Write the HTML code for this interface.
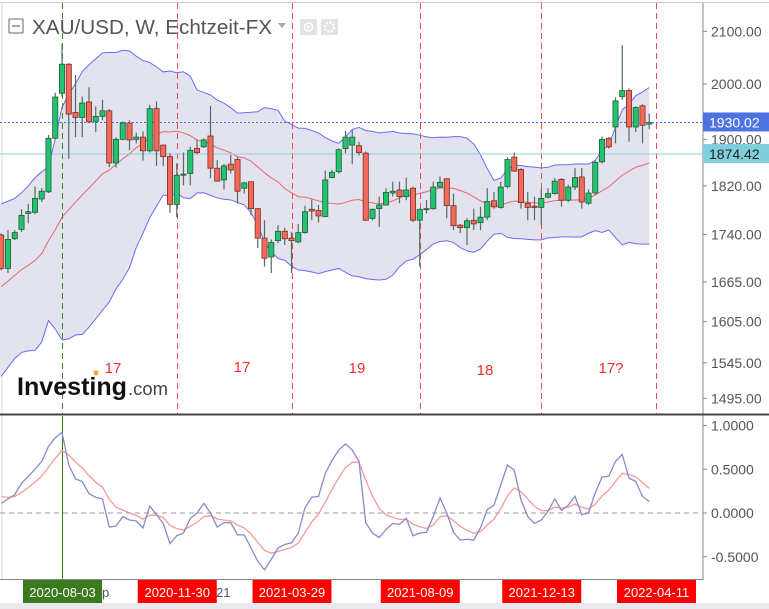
<!DOCTYPE html>
<html><head><meta charset="utf-8">
<style>
html,body{margin:0;padding:0;background:#fff;width:769px;height:609px;overflow:hidden}
svg{display:block;font-family:"Liberation Sans",sans-serif}
</style></head>
<body>
<svg id="chart" width="769" height="609" viewBox="0 0 769 609" xmlns="http://www.w3.org/2000/svg">
<defs><clipPath id="mainClip"><rect x="0" y="3" width="703" height="411"/></clipPath>
<clipPath id="oscClip"><rect x="0" y="416" width="703" height="163"/></clipPath></defs>
<rect x="0" y="0" width="769" height="609" fill="#fff"/>
<line x1="0" y1="2.5" x2="769" y2="2.5" stroke="#ccc"/>
<line x1="2" y1="3" x2="2" y2="580" stroke="#ddd"/>
<g id="bands" clip-path="url(#mainClip)"></g>
<g id="vlines"></g>
<g id="hlines"></g>
<g id="candles" clip-path="url(#mainClip)"></g>
<g font-size="15" fill="#f03030" text-anchor="middle">
<text x="113" y="373">17</text>
<text x="242" y="372">17</text>
<text x="357" y="373">19</text>
<text x="485" y="375">18</text>
<text x="611" y="373">17?</text>
</g>
<g>
<text x="17" y="395" font-size="25" font-weight="bold" fill="#111" textLength="110" lengthAdjust="spacingAndGlyphs">Investing</text>
<text x="128" y="395" font-size="18" fill="#444" textLength="40" lengthAdjust="spacingAndGlyphs">.com</text>
<circle cx="96" cy="373" r="2.5" fill="#f7a21b"/>
</g>
<g>
<rect x="9" y="19" width="14" height="14" fill="#fff" stroke="#666" rx="1"/>
<line x1="12" y1="26" x2="20" y2="26" stroke="#666" stroke-width="1.2"/>
<text x="32" y="34" font-size="20" fill="#555" textLength="240" lengthAdjust="spacingAndGlyphs">XAU/USD, W, Echtzeit-FX</text>
<path d="M278 23 l8 0 l-4 5z" fill="#aaa"/>
<rect x="300" y="19" width="17" height="16" fill="#e3e3e3"/>
<circle cx="308.5" cy="27" r="4" fill="none" stroke="#fff" stroke-width="1.6"/>
<circle cx="308.5" cy="27" r="1.5" fill="#fff"/>
<rect x="321" y="19" width="17" height="16" fill="#e3e3e3"/>
<circle cx="329.5" cy="27" r="4.5" fill="none" stroke="#fff" stroke-width="2.5" stroke-dasharray="2 1.5"/>
</g>
<line x1="703" y1="3" x2="703" y2="580" stroke="#888"/>
<g id="yaxis"></g>
<line x1="0" y1="414.5" x2="769" y2="414.5" stroke="#444" stroke-width="2"/>
<g id="osc"></g>
<line x1="0" y1="579.5" x2="703" y2="579.5" stroke="#888"/>
<g id="dates"></g>
<rect x="0" y="603" width="769" height="6" fill="#e9e9ee"/>
</svg>
<script>
const opens=[1739,1686,1733,1748,1774,1776,1798,1810,1902,1983,2037,1948,1939,1967,1932,1941,1951,1859,1900,1929,1900,1904,1880,1955,1890,1870,1789,1838,1841,1884,1887,1906,1850,1830,1857,1865,1816,1827,1782,1734,1704,1730,1745,1734,1728,1743,1781,1779,1769,1834,1844,1884,1890,1889,1876,1766,1782,1788,1808,1813,1802,1816,1763,1781,1782,1818,1832,1787,1755,1751,1763,1759,1768,1795,1784,1819,1869,1848,1791,1786,1784,1801,1807,1831,1796,1818,1835,1791,1808,1861,1902,1922,1977,1988,1922,1960,1927];
const highs=[1742,1747,1747,1781,1790,1819,1816,1908,1984,2075,2039,2017,1977,1994,1959,1971,1954,1904,1932,1934,1912,1914,1962,1968,1891,1876,1858,1877,1887,1900,1902,1960,1864,1857,1873,1869,1827,1827,1782,1763,1732,1755,1751,1744,1757,1787,1797,1788,1846,1847,1884,1915,1917,1896,1879,1782,1802,1816,1827,1827,1834,1819,1781,1796,1827,1836,1833,1807,1757,1766,1782,1785,1816,1810,1827,1869,1877,1850,1810,1802,1815,1816,1833,1833,1822,1850,1850,1814,1864,1905,1904,1975,2073,1992,1959,1963,1946];
const lows=[1683,1679,1731,1744,1758,1773,1793,1808,1900,1977,1866,1904,1904,1929,1913,1934,1852,1851,1899,1881,1893,1863,1877,1854,1854,1775,1768,1821,1821,1874,1885,1833,1827,1814,1841,1790,1807,1771,1718,1689,1679,1726,1723,1679,1726,1741,1763,1759,1768,1833,1841,1876,1857,1872,1762,1763,1752,1788,1802,1791,1796,1760,1689,1774,1780,1816,1766,1747,1742,1723,1747,1747,1763,1782,1782,1816,1844,1782,1763,1763,1755,1799,1805,1785,1793,1813,1782,1788,1805,1858,1884,1893,1971,1896,1913,1893,1918];
const closes=[1686,1732,1743,1771,1777,1799,1811,1902,1976,2037,1945,1939,1965,1931,1941,1951,1859,1900,1929,1899,1904,1880,1955,1880,1870,1789,1838,1840,1881,1877,1899,1850,1828,1854,1847,1811,1825,1782,1734,1702,1727,1745,1733,1730,1743,1777,1778,1770,1830,1843,1882,1904,1904,1877,1763,1781,1788,1809,1811,1802,1813,1763,1781,1782,1818,1826,1787,1754,1751,1762,1757,1768,1794,1785,1818,1865,1845,1792,1784,1784,1799,1807,1828,1796,1818,1834,1793,1808,1860,1900,1887,1969,1988,1922,1957,1925,1930];
const priorCloses=[1560,1570,1590,1640,1650,1590,1500,1620,1630,1690,1690,1730,1700,1700,1710,1730,1700,1740,1730];
const oscValues=[0.11,0.16,0.21,0.34,0.42,0.50,0.59,0.76,0.86,0.92,0.55,0.39,0.36,0.22,0.18,0.16,-0.16,-0.15,-0.04,-0.08,-0.09,-0.17,0.08,-0.02,-0.12,-0.35,-0.26,-0.23,-0.06,0.0,0.11,0.0,-0.16,-0.11,-0.11,-0.25,-0.25,-0.40,-0.55,-0.65,-0.53,-0.40,-0.36,-0.34,-0.23,0.06,0.18,0.19,0.45,0.60,0.72,0.79,0.72,0.59,-0.11,-0.23,-0.28,-0.19,-0.12,-0.13,-0.06,-0.26,-0.23,-0.22,-0.04,0.17,0.0,-0.22,-0.31,-0.30,-0.31,-0.17,0.04,0.09,0.32,0.55,0.49,0.15,-0.04,-0.12,-0.08,0.02,0.16,0.03,0.09,0.19,-0.02,0.0,0.23,0.41,0.42,0.59,0.67,0.40,0.36,0.19,0.13];
const priceTicks=[2100,2000,1900,1820,1740,1665,1605,1545,1495];
const oscTicks=[1.0,0.5,0.0,-0.5];
const oscTickLabels=["1.0000","0.5000","0.0000","-0.5000"];
const markerIdx=[9,26,43,62,80,97];
const markerDates=["2020-08-03","2020-11-30","2021-03-29","2021-08-09","2021-12-13","2022-04-11"];
const lastPrice=1930.02, refPrice=1874.42;

const NS="http://www.w3.org/2000/svg";
function xOf(i){return 1.25+6.75*i;}
function yP(p){return 84-1080*Math.log(p/2000);}
function yO(v){return 513-87.5*v;}
function mk(tag,attrs,parent){const e=document.createElementNS(NS,tag);for(const k in attrs)e.setAttribute(k,attrs[k]);parent.appendChild(e);return e;}

const all=priorCloses.concat(closes);
const mid=[],up=[],lo=[];
for(let i=0;i<closes.length;i++){
  const w=all.slice(i,i+20);const m=w.reduce((a,b)=>a+b,0)/20;
  const sd=Math.sqrt(w.reduce((a,b)=>a+(b-m)*(b-m),0)/20);
  mid.push(m);up.push(m+2*sd);lo.push(m-2*sd);
}
const bands=document.getElementById('bands');
let fillD='M0,'+yP(up[0]);
up.forEach((v,i)=>fillD+=' L'+xOf(i)+','+yP(v));
for(let i=lo.length-1;i>=0;i--)fillD+=' L'+xOf(i)+','+yP(lo[i]);
fillD+=' L0,'+yP(lo[0])+'Z';
const bf=mk('path',{d:fillD,fill:'#e3e3f0',stroke:'none'},bands);


function line(arr,f,color,name,parent,w){
  let d='';arr.forEach((v,i)=>d+=(i?' L':'M')+xOf(i)+','+f(v));
  const p=mk('path',{d:d,fill:'none',stroke:color,'stroke-width':w||1},parent);
  
  
  return p;
}
line(up,yP,'#6b6bf5','upper-band',bands);
line(lo,yP,'#6b6bf5','lower-band',bands);
line(mid,yP,'#e86a6a','middle-band',bands);

const vl=document.getElementById('vlines');
markerIdx.forEach((m,k)=>{
  const x=Math.round(xOf(m))+0.5;
  const l=mk('line',{x1:x,y1:3,x2:x,y2:414,stroke:k===0?'#3a8a2a':'#f04a4a','stroke-width':1,'stroke-dasharray':'6 4'},vl);
  
  
});
const hl=document.getElementById('hlines');
const l1=mk('line',{x1:0,y1:yP(lastPrice),x2:703,y2:yP(lastPrice),stroke:'#4a6ef0','stroke-dasharray':'2 2'},hl);


const l2=mk('line',{x1:0,y1:yP(refPrice),x2:703,y2:yP(refPrice),stroke:'#8fd0dc'},hl);



const cg=document.getElementById('candles');
closes.forEach((c,i)=>{
  const o=opens[i],x=xOf(i),g=c>=o;
  const w=mk('line',{x1:x,y1:yP(highs[i]),x2:x,y2:yP(lows[i]),stroke:'#4f6e5e','stroke-width':1.2},cg);
  
  
  const t=yP(Math.max(o,c)),b=yP(Math.min(o,c));
  const r=mk('rect',{x:x-2.6,y:t,width:5.2,height:Math.max(1,b-t),fill:g?'#1fc46e':'#f26a5a',stroke:g?'#2c5a3e':'#7a2e26','stroke-width':0.8},cg);
  
  
});

const ya=document.getElementById('yaxis');
priceTicks.forEach(p=>{
  const y=yP(p);
  mk('line',{x1:703,y1:y,x2:707,y2:y,stroke:'#888'},ya);
  const t=mk('text',{x:711,y:y+5,'font-size':14,fill:'#555'},ya);
  t.textContent=p.toFixed(2);
  
  
});
function tag(price,bg,fg,name){
  const y=yP(price);
  const r=mk('rect',{x:703,y:y-10,width:66,height:19,fill:bg},ya);
  
  
  const t=mk('text',{x:709,y:y+5,'font-size':14,fill:fg},ya);
  t.textContent=price.toFixed(2);
  
  
}
tag(refPrice,'#7fd0dc','#222','reference-price-tag');
tag(lastPrice,'#4d73e3','#fff','last-price-tag');

const og=document.getElementById('osc');
oscTicks.forEach((v,k)=>{
  const y=yO(v);
  mk('line',{x1:703,y1:y,x2:707,y2:y,stroke:'#888'},og);
  const t=mk('text',{x:711,y:y+5,'font-size':14,fill:'#555'},og);
  t.textContent=oscTickLabels[k];
  
  
});
const zl=mk('line',{x1:0,y1:yO(0),x2:703,y2:yO(0),stroke:'#bbb','stroke-width':1.5,'stroke-dasharray':'5 4'},og);


const gx=Math.round(xOf(markerIdx[0]))+0.5;
const gl=mk('line',{x1:gx,y1:416,x2:gx,y2:580,stroke:'#3a7a1f'},og);


const signal=[];let e=0.22;
oscValues.forEach(v=>{e=e+0.3*(v-e);signal.push(e);});
const oc=mk('g',{'clip-path':'url(#oscClip)'},og);
line(signal,yO,'#f59a9a','osc-signal-line',oc,1.3);
line(oscValues,yO,'#8a8ac8','osc-main-line',oc,1.3);

const dg=document.getElementById('dates');
markerDates.forEach((d,k)=>{
  const x=xOf(markerIdx[k]);
  const green=k===0;
  const left=Math.min(x-39,698-79);
  const r=mk('rect',{x:left,y:580,width:79,height:23,fill:green?'#3b7a1e':'#ff0000'},dg);
  
  
  const t=mk('text',{x:left+39.5,y:597,'font-size':13,fill:'#fff','text-anchor':'middle'},dg);
  t.textContent=d;
  
  
});
const e1=mk('text',{x:102,y:597,'font-size':13,fill:'#555'},dg);e1.textContent='p';


const e2=mk('text',{x:216,y:597,'font-size':13,fill:'#555'},dg);e2.textContent='21';


</script>
</body></html>
